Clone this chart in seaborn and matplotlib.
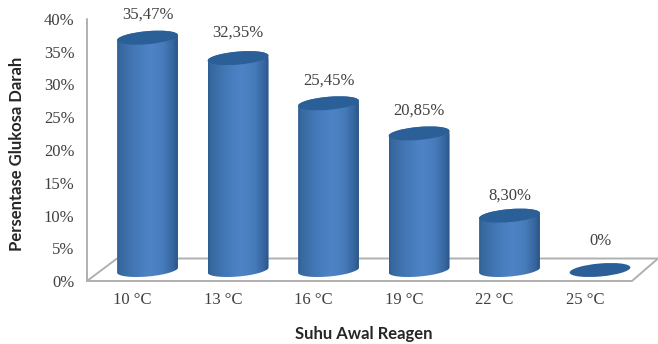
import numpy as np
import pandas as pd
import matplotlib
matplotlib.use("Agg")
import matplotlib.pyplot as plt
import seaborn as sns
from matplotlib.colors import LinearSegmentedColormap
from matplotlib.patches import Polygon, Ellipse
from matplotlib.transforms import Affine2D, ScaledTranslation

temperatures = ["10 °C", "13 °C", "16 °C", "19 °C", "22 °C", "25 °C"]
glucose_pct = [35.47, 32.35, 25.45, 20.85, 8.30, 0.0]
value_labels = ["35,47%", "32,35%", "25,45%", "20,85%", "8,30%", "0%"]
y_ticks = [0, 5, 10, 15, 20, 25, 30, 35, 40]

sns.set_theme(style="white")
W, H, DPI = 658, 344, 100
fig = plt.figure(figsize=(W / DPI, H / DPI), dpi=DPI, facecolor="white")

# Axes box in pixels: x from 87 to 632, y from 281 (0%) up to 19 (40%)
ax = fig.add_axes([87 / W, 1 - 281 / H, (632 - 87) / W, (281 - 19) / H])

table = pd.DataFrame({"suhu": temperatures, "glukosa": glucose_pct})
px_per_cat = 90.5
bar_w = 61 / px_per_cat
sns.barplot(data=table, x="suhu", y="glukosa", color="#3f75b5", saturation=1,
            width=bar_w, ax=ax, zorder=3)

ax.set_xlim(-60.5 / px_per_cat, 5 + 32 / px_per_cat)
ax.set_ylim(0, 40)
px_per_pct = (281 - 19) / 40

# Floor of the 3D plot box sits in front of and behind the columns
floor_depth_pct = 22.5 / px_per_pct
back_left = -0.337
back_right = 5 + 58 / px_per_cat
x0, x1 = ax.get_xlim()
wall = "#b0b0b0"
ax.plot([x0, x0], [0, 40], color=wall, lw=1.4, clip_on=False, zorder=1)
ax.plot([x0, x1, back_right], [0, 0, floor_depth_pct], color=wall, lw=1.4,
        clip_on=False, zorder=1)
ax.plot([x0, back_left, back_right], [0, floor_depth_pct, floor_depth_pct],
        color=wall, lw=1.4, clip_on=False, zorder=1)

side_cmap = LinearSegmentedColormap.from_list(
    "column",
    [(0.0, "#2e5e96"), (0.06, "#38699f"), (0.30, "#4479b9"), (0.55, "#4e84c6"),
     (0.75, "#477cbc"), (0.92, "#37669f"), (1.0, "#2a5484")],
)
gradient = np.linspace(0, 1, 256)[None, :]
top_color = "#2b5f98"

base_pct = 11 / px_per_pct      # column foot, raised by half the floor depth
half_w = 30.5                   # ellipse semi-axes, pixels
half_h = 6.5
tilt = np.deg2rad(5)


def ellipse_points(t):
    ex, ey = half_w * np.cos(t), half_h * np.sin(t)
    return (ex * np.cos(tilt) - ey * np.sin(tilt),
            ex * np.sin(tilt) + ey * np.cos(tilt))


def cap(cx, cy, zorder):
    scale = DPI / 72
    patch = Ellipse((0, 0), 2 * half_w / scale, 2 * half_h / scale,
                    angle=np.rad2deg(tilt), facecolor=top_color, edgecolor="none",
                    zorder=zorder)
    patch.set_transform(Affine2D().scale(scale) +
                        ScaledTranslation(cx, cy, ax.transData))
    ax.add_patch(patch)


for bar, value in zip(ax.patches, glucose_pct):
    cx = bar.get_x() + bar.get_width() / 2
    foot = base_pct
    head = base_pct + value
    bar.set_y(foot)
    bar.set_height(value)
    if value > 0:
        # Outline: lower half of the foot ellipse, then the upper end of the shaft
        lx, ly = ellipse_points(np.linspace(np.pi, 2 * np.pi, 60))
        tx, ty = ellipse_points(np.linspace(0, np.pi, 60))
        xs = np.r_[cx + lx / px_per_cat, cx + tx / px_per_cat]
        ys = np.r_[foot + ly / px_per_pct, head + ty / px_per_pct]
        outline = Polygon(np.c_[xs, ys], closed=True, transform=ax.transData,
                          facecolor="none", edgecolor="none")
        ax.add_patch(outline)
        bar.set_clip_path(outline)
        img = ax.imshow(gradient, cmap=side_cmap, aspect="auto",
                        extent=(cx - bar_w / 2, cx + bar_w / 2,
                                foot - 2 * half_h / px_per_pct,
                                head + 2 * half_h / px_per_pct),
                        zorder=4, interpolation="bilinear")
        img.set_clip_path(outline)
    cap(cx, head, zorder=5)

ax.set_xlim(-60.5 / px_per_cat, 5 + 32 / px_per_cat)
ax.set_ylim(0, 40)

for sp in ax.spines.values():
    sp.set_visible(False)

serif = "Liberation Serif"
text_color = "#404040"
ax.set_yticks(y_ticks)
ax.set_yticklabels([f"{v}%" for v in y_ticks], family=serif, fontsize=12,
                   color=text_color)
# Category names sit on the front edge of the floor, left of the column centres
front_shift = 15 / px_per_cat
ax.set_xticks(np.arange(len(temperatures)) - front_shift)
ax.set_xticklabels(temperatures, family=serif, fontsize=12, color=text_color)
ax.tick_params(axis="both", length=0)
ax.tick_params(axis="x", pad=8)
ax.tick_params(axis="y", pad=9)

label_lift = [23, 25, 23, 23, 20, 29]
for i, (value, text, lift) in enumerate(zip(glucose_pct, value_labels, label_lift)):
    ax.annotate(text, (i, base_pct + value), xytext=(0, lift * 72 / DPI),
                textcoords="offset points", ha="center", va="center",
                family=serif, fontsize=12, color=text_color, annotation_clip=False)

fig.text(364 / W, 1 - 334 / H, "Suhu Awal Reagen", family="Lato", weight="bold",
         fontsize=12, color="#262626", ha="center", va="center")
fig.text(17 / W, 1 - 154 / H, "Persentase Glukosa Darah", family="Lato",
         weight="bold", fontsize=12, color="#262626", ha="center", va="center",
         rotation=90)
ax.set_xlabel("")
ax.set_ylabel("")

fig.savefig("out.png", dpi=DPI)
